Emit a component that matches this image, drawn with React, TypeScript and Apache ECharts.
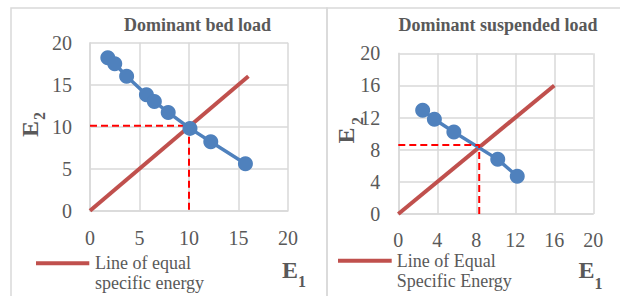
import React, { useEffect, useRef } from "react";
import * as echarts from "echarts";

const bedE1 = [1.8, 2.5, 3.7, 5.7, 6.5, 7.9, 10.1, 12.2, 15.7];
const bedE2 = [18.2, 17.5, 16.0, 13.8, 13.0, 11.7, 9.8, 8.2, 5.6];
const susE1 = [2.5, 3.7, 5.7, 10.2, 12.2];
const susE2 = [12.9, 11.8, 10.2, 6.8, 4.7];
const equalLine = [0, 16];
const bedCritical = [10, 10.1];
const susCritical = [8.3, 8.6];
const titles = ["Dominant bed load", "Dominant suspended load"];
const legendLines = [["Line of equal", "specific energy"], ["Line of Equal", "Specific Energy"]];

const SERIF = "'Liberation Serif', 'Times New Roman', serif";
const GREY = "#595959";
const GRID_C = "#d9d9d9";
const BLUE = "#4F81BD";
const RED = "#C0504D";

const pairs = (xs: number[], ys: number[]) => xs.map((x, i) => [x, ys[i]]);

export default function App() {
  const ref = useRef<HTMLDivElement>(null);
  useEffect(() => {
    if (!ref.current) return;
    const chart = echarts.init(ref.current, null, { renderer: "svg" });
    const axisCommon = {
      type: "value" as const,
      min: 0,
      max: 20,
      axisLine: { show: true, lineStyle: { color: GRID_C, width: 1.5 } },
      axisTick: { show: false },
      splitLine: { show: true, lineStyle: { color: GRID_C, width: 1.5 } },
      axisLabel: { fontFamily: SERIF, fontSize: 20, color: GREY },
    };
    const textEl = (x: number, y: number, text: string, size: number, bold = false, align = "center", rotation = 0) => ({
      type: "text",
      x,
      y,
      rotation,
      style: {
        text,
        fontFamily: SERIF,
        fontSize: size,
        fontWeight: bold ? "bold" : "normal",
        fill: GREY,
        align,
        verticalAlign: "middle",
      },
    });
    const option = {
      animation: false,
      grid: [
        { left: 90, top: 42.7, width: 198, height: 168 },
        { left: 398.3, top: 53.3, width: 195, height: 160.7 },
      ],
      xAxis: [
        { ...axisCommon, gridIndex: 0, interval: 5, axisLabel: { ...axisCommon.axisLabel, margin: 17 } },
        { ...axisCommon, gridIndex: 1, interval: 4, axisLabel: { ...axisCommon.axisLabel, margin: 16 } },
      ],
      yAxis: [
        { ...axisCommon, gridIndex: 0, interval: 5, axisLabel: { ...axisCommon.axisLabel, margin: 18 } },
        { ...axisCommon, gridIndex: 1, interval: 4, axisLabel: { ...axisCommon.axisLabel, margin: 18 } },
      ],
      series: [
        {
          type: "line", xAxisIndex: 0, yAxisIndex: 0, symbol: "none",
          data: [[equalLine[0], equalLine[0]], [equalLine[1], equalLine[1]]],
          lineStyle: { color: RED, width: 4 }, z: 2,
        },
        {
          type: "line", xAxisIndex: 0, yAxisIndex: 0, symbol: "none",
          data: [[0, bedCritical[1]], [bedCritical[0], bedCritical[1]], [bedCritical[0], 0]],
          lineStyle: { color: "#FF0000", width: 2, type: [7, 4] }, z: 3,
        },
        {
          type: "line", xAxisIndex: 0, yAxisIndex: 0, symbol: "circle", symbolSize: 15,
          data: pairs(bedE1, bedE2),
          itemStyle: { color: BLUE }, lineStyle: { color: BLUE, width: 3.5 }, z: 4,
        },
        {
          type: "line", xAxisIndex: 1, yAxisIndex: 1, symbol: "none",
          data: [[equalLine[0], equalLine[0]], [equalLine[1], equalLine[1]]],
          lineStyle: { color: RED, width: 4 }, z: 2,
        },
        {
          type: "line", xAxisIndex: 1, yAxisIndex: 1, symbol: "none",
          data: [[0, susCritical[1]], [susCritical[0], susCritical[1]], [susCritical[0], 0]],
          lineStyle: { color: "#FF0000", width: 2, type: [7, 4] }, z: 5,
        },
        {
          type: "line", xAxisIndex: 1, yAxisIndex: 1, symbol: "circle", symbolSize: 15,
          data: pairs(susE1, susE2),
          itemStyle: { color: BLUE }, lineStyle: { color: BLUE, width: 3.5 }, z: 4,
        },
      ],
      graphic: [
        { type: "rect", shape: { x: 11, y: 8, width: 316, height: 320 }, style: { fill: "none", stroke: GRID_C, lineWidth: 1.5 }, silent: true },
        { type: "rect", shape: { x: 327, y: 8, width: 320, height: 320 }, style: { fill: "none", stroke: GRID_C, lineWidth: 1.5 }, silent: true },
        textEl(197.5, 25, titles[0], 18, true),
        textEl(498, 24.5, titles[1], 18, true),
        // left axis names
        textEl(30, 129, "E", 24, true, "center", Math.PI / 2),
        textEl(39, 116, "2", 16, true, "center", Math.PI / 2),
        textEl(290, 270, "E", 24, true),
        textEl(302, 281, "1", 16, true),
        // right axis names
        textEl(345.5, 135.5, "E", 24, true, "center", Math.PI / 2),
        textEl(357, 121, "2", 16, true, "center", Math.PI / 2),
        textEl(586.5, 270, "E", 24, true),
        textEl(598.5, 283, "1", 16, true),
        // legends
        { type: "line", shape: { x1: 36, y1: 263.3, x2: 89.3, y2: 263.3 }, style: { stroke: RED, lineWidth: 4 } },
        textEl(95, 263, legendLines[0][0], 18, false, "left"),
        textEl(95, 283, legendLines[0][1], 18, false, "left"),
        { type: "line", shape: { x1: 338, y1: 260.7, x2: 391.7, y2: 260.7 }, style: { stroke: RED, lineWidth: 4 } },
        textEl(396.7, 260.5, legendLines[1][0], 18, false, "left"),
        textEl(396.7, 280.5, legendLines[1][1], 18, false, "left"),
      ],
    };
    chart.setOption(option as any);
    return () => chart.dispose();
  }, []);
  return (
    <div
      ref={ref}
      style={{ position: "absolute", left: 0, top: 0, width: 620, height: 296, background: "#fff" }}
    />
  );
}
